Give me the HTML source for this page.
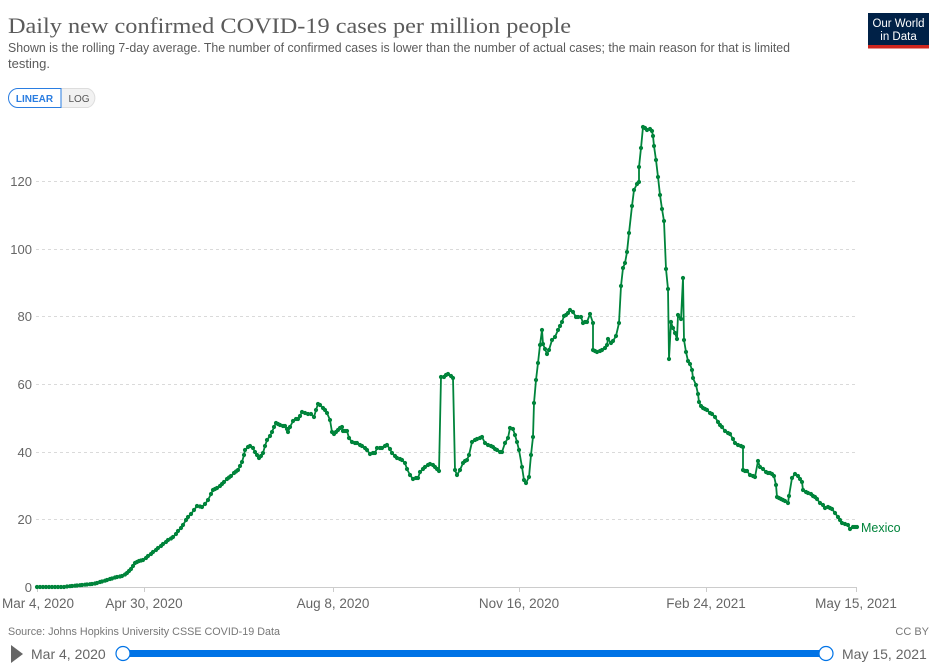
<!DOCTYPE html>
<html><head><meta charset="utf-8"><style>
html,body{margin:0;padding:0;background:#fff;}
svg{display:block;}
</style></head><body>
<svg width="943" height="669" viewBox="0 0 943 669" xmlns="http://www.w3.org/2000/svg">
<defs>
<marker id="dot" viewBox="-3 -3 6 6" markerWidth="6" markerHeight="6" markerUnits="userSpaceOnUse" refX="0" refY="0">
<circle cx="0" cy="0" r="2.1" fill="#00843b"/>
</marker>
</defs>
<rect width="943" height="669" fill="#fff"/>
<text x="8" y="33" font-family="Liberation Serif, serif" font-size="22" fill="#5b5b5b" textLength="563" lengthAdjust="spacingAndGlyphs">Daily new confirmed COVID-19 cases per million people</text>
<text x="8" y="52" font-family="Liberation Sans, sans-serif" font-size="12.5" fill="#5b5b5b" textLength="782" lengthAdjust="spacingAndGlyphs">Shown is the rolling 7-day average. The number of confirmed cases is lower than the number of actual cases; the main reason for that is limited</text>
<text x="8" y="68" font-family="Liberation Sans, sans-serif" font-size="12.5" fill="#5b5b5b" textLength="42" lengthAdjust="spacingAndGlyphs">testing.</text>
<!-- logo -->
<rect x="868" y="13" width="61" height="33" fill="#002147"/>
<rect x="868" y="45" width="61" height="3.5" fill="#ce261e"/>
<text x="898.5" y="27" text-anchor="middle" font-family="Liberation Sans, sans-serif" font-size="11.5" fill="#fff" textLength="52" lengthAdjust="spacingAndGlyphs">Our World</text>
<text x="898.5" y="40" text-anchor="middle" font-family="Liberation Sans, sans-serif" font-size="11.5" fill="#fff">in Data</text>
<!-- buttons -->
<path d="M61 88.5 H88 A10 10 0 0 1 88 107.5 H61 Z" fill="#f2f2f2" stroke="#ddd" stroke-width="1"/>
<path d="M61 88.5 H18 A9.5 9.5 0 0 0 18 107.5 H61 Z" fill="#fff" stroke="#2a7de1" stroke-width="1"/>
<text x="34.5" y="102" text-anchor="middle" font-family="Liberation Sans, sans-serif" font-size="10" font-weight="bold" fill="#2a7de1">LINEAR</text>
<text x="79" y="102" text-anchor="middle" font-family="Liberation Sans, sans-serif" font-size="10" fill="#555">LOG</text>
<!-- grid -->
<g stroke="#dadada" stroke-width="1" stroke-dasharray="3,3">
<line x1="36" y1="181.5" x2="857" y2="181.5"/>
<line x1="36" y1="249.5" x2="857" y2="249.5"/>
<line x1="36" y1="316.5" x2="857" y2="316.5"/>
<line x1="36" y1="384.5" x2="857" y2="384.5"/>
<line x1="36" y1="452.5" x2="857" y2="452.5"/>
<line x1="36" y1="519.5" x2="857" y2="519.5"/>
</g>
<line x1="36" y1="587.5" x2="857" y2="587.5" stroke="#ccc" stroke-width="1"/>
<g stroke="#ccc" stroke-width="1">
<line x1="37.5" y1="587" x2="37.5" y2="592"/>
<line x1="144.5" y1="587" x2="144.5" y2="592"/>
<line x1="333.5" y1="587" x2="333.5" y2="592"/>
<line x1="519.5" y1="587" x2="519.5" y2="592"/>
<line x1="706.5" y1="587" x2="706.5" y2="592"/>
<line x1="856.5" y1="587" x2="856.5" y2="592"/>
</g>
<g font-family="Liberation Sans, sans-serif" font-size="13" fill="#666" text-anchor="end">
<text x="32" y="186">120</text>
<text x="32" y="254">100</text>
<text x="32" y="321">80</text>
<text x="32" y="389">60</text>
<text x="32" y="457">40</text>
<text x="32" y="524">20</text>
<text x="32" y="592">0</text>
</g>
<g font-family="Liberation Sans, sans-serif" font-size="13.5" fill="#666" text-anchor="middle">
<text x="38" y="608">Mar 4, 2020</text>
<text x="144" y="608">Apr 30, 2020</text>
<text x="333" y="608">Aug 8, 2020</text>
<text x="519" y="608">Nov 16, 2020</text>
<text x="706" y="608">Feb 24, 2021</text>
<text x="856" y="608">May 15, 2021</text>
</g>
<polyline fill="none" stroke="#00843b" stroke-width="1.8" stroke-linejoin="round" marker-start="url(#dot)" marker-mid="url(#dot)" marker-end="url(#dot)" points="37,587 40,587 43,587 46,587 49,587 52,587 55,587 58,587 61,587 64,587 67,586.5 70,586.2 72,586 75,585.7 77,585.5 80,585.2 82,585 85,584.7 87,584.5 90,584.2 92,584 95,583.5 97,583 100,582 102,581.5 105,580.7 107,580 110,579 112,578.5 115,577.5 117,577 120,576.5 122,576 125,574.5 127,573 129,571 131,569 133,566 135,563 137,562 139,561 141,560.5 143,560 146,558 148,556 151,554 153,552 156,550 158,548 161,546 163,544 166,542 168,540 171,538.5 173,537 176,534 178,531 181,528 183,525 186,520 188,517 191,514 194,510 197,506 200,506.5 202,507 205,504 208,500 211,494 213,490 215,489 217,488 220,486 222,484 224,482 227,479 229,477.5 231,476 234,473 236,471.5 238,470 240,466 242,462 244,455 245,450 248,447 250,446 253,448 255,452 257,455 259,458 261,456 263,453 265,446 267,440 270,436 272,432 274,427 276,423 278,424 280,425 283,426 285,426 287,429 288,432 290,427 293,421 296,419 298,419 300,416 302,412 305,413 308,414 311,414 314,417 316,410 318,404 320,405 323,408 325,410 327,413 330,420 332,432 334,434 336,432 338,430 340,428 342,427 343,431 345,431 347,431 349,438 352,442 355,443 357,443 360,445 362,446 365,448 367,450 370,454 373,453 375,453 377,448 380,448 382,448 385,446 387,445 390,449 392,453 395,456 397,458 400,459 402,460 405,463 407,469 410,475 413,479 416,478 418,478 420,472 423,469 425,467 428,465 430,464 433,465 435,467 437,469 439,471 441,377 444,377 446,375 448,374 451,376 453,378 455,470 457,475 460,470 463,463 465,461 467,460 469,455 472,442 475,440 477,439 480,438 482,437 485,443 488,445 491,446 493,447 495,449 497,450 500,452 502,452 505,443 508,438 510,428 513,429 515,435 517,442 519,450 522,467 524,480 526,483 529,477 531,455 533,437 534,403 536,380 538,363 540,345 542,330 543,344 545,349 547,354 549,350 552,340 555,337 558,330 560,326 562,322 564,316 566,315 568,313 570,310 573,312 576,317 578,317 581,317 583,323 585,322 587,322 590,314 593,323 593,350 595,351 597,352 600,351 602,350 605,348 607,345 608,339 611,343 613,341 616,336 619,323 621,286 623,268 625,263 627,252 629,233 632,206 634,190 637,184 639,182 639,167 641,148 643,127 645,128 647,130 650,129 652,131 653,136 654,146 656,160 658,177 660,195 662,209 664,221 666,269 668,289 669,359 671,322 673,328 675,333 677,339 678,315 681,319 683,278 684,340 686,352 688,361 690,364 692,370 693,378 696,385 698,394 699,402 701,406 703,408 705,409 707,410 710,413 712,414 715,417 718,422 720,425 722,427 725,431 728,433 730,434 733,439 735,443 738,445 741,446 743,447 743,470 745,471 747,471 750,475 753,476 755,477 758,461 760,467 763,469 766,472 768,473 770,473 772,474 774,476 776,485 777,497 779,498 781,499 783,500 785,501 788,503 789,496 792,478 795,474 798,476 800,479 802,482 803,490 806,492 808,493 811,494 813,496 815,497 817,499 820,503 823,505 825,508 828,507 830,508 832,509 835,513 838,517 840,520 842,523 845,524 848,525 850,529 853,527 855,527 857,527"/>
<text x="861" y="532" font-family="Liberation Sans, sans-serif" font-size="12.5" fill="#00843b">Mexico</text>
<!-- footer -->
<text x="8" y="635" font-family="Liberation Sans, sans-serif" font-size="11" fill="#777" textLength="272" lengthAdjust="spacingAndGlyphs">Source: Johns Hopkins University CSSE COVID-19 Data</text>
<text x="929" y="635" text-anchor="end" font-family="Liberation Sans, sans-serif" font-size="11" fill="#777">CC BY</text>
<!-- timeline -->
<path d="M11 645 L23 654 L11 663 Z" fill="#666"/>
<text x="31" y="659" font-family="Liberation Sans, sans-serif" font-size="14" fill="#666">Mar 4, 2020</text>
<rect x="122" y="650" width="704" height="7" fill="#0073e6"/>
<circle cx="123" cy="653.5" r="7" fill="#fff" stroke="#0073e6" stroke-width="1.2"/>
<circle cx="826" cy="653.5" r="7" fill="#fff" stroke="#0073e6" stroke-width="1.2"/>
<text x="842" y="659" font-family="Liberation Sans, sans-serif" font-size="14" fill="#666">May 15, 2021</text>
</svg>
</body></html>
